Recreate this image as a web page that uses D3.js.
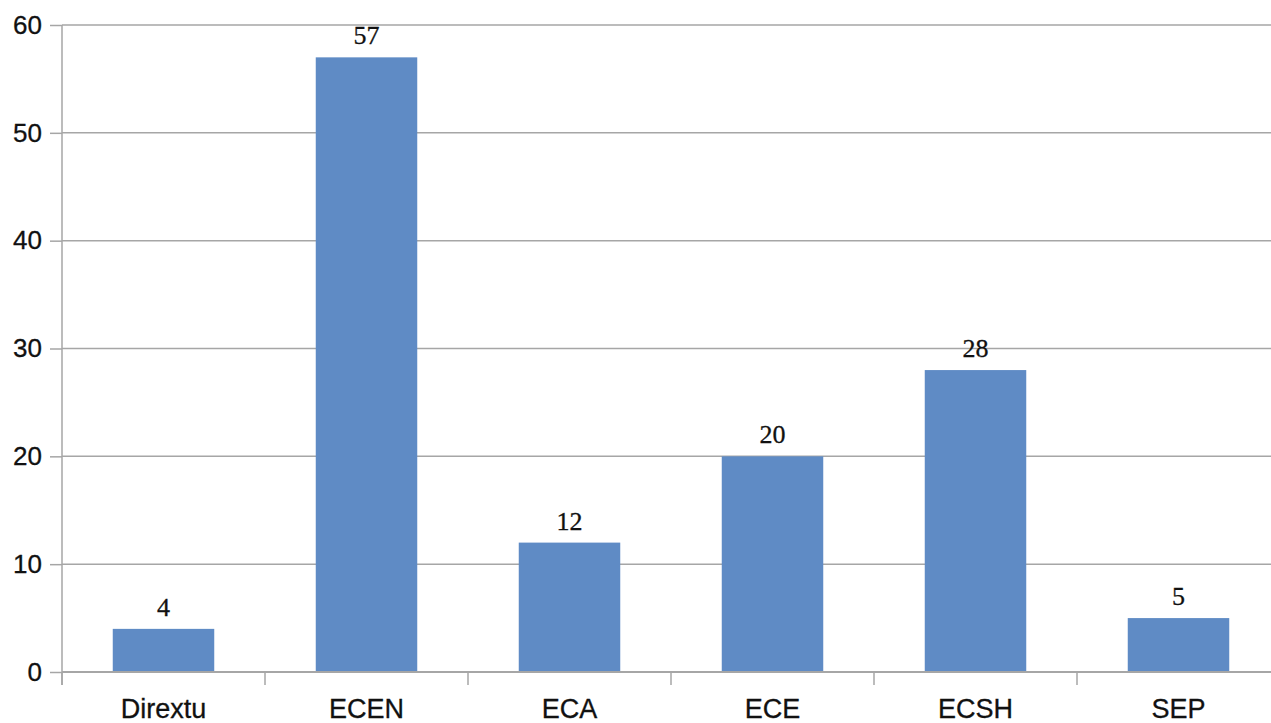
<!DOCTYPE html>
<html><head><meta charset="utf-8">
<script src="https://cdn.jsdelivr.net/npm/d3@7"></script>
<style>body{margin:0;background:#fff;}svg{display:block;}</style>
</head><body>
<svg id="c" width="1271" height="723"></svg>
<script>
const categories = ["Dirextu","ECEN","ECA","ECE","ECSH","SEP"];
const values = [4,57,12,20,28,5];
const yTicks = [0,10,20,30,40,50,60];

const svg = d3.select("#c");
const mLeft = 62, mTop = 25, mBottom = 672, step = 203;
const x = d3.scaleBand().domain(categories).range([mLeft, mLeft + step*categories.length]).paddingInner(0.5).paddingOuter(0.25);
const y = d3.scaleLinear().domain([0,60]).range([mBottom, mTop]);

// gridlines
svg.append("g").selectAll("line").data(yTicks.filter(d=>d>0)).join("line")
  .attr("x1", mLeft).attr("x2", 1271).attr("y1", d=>y(d)).attr("y2", d=>y(d))
  .attr("stroke", "#a6a6a6").attr("stroke-width", 1.5);

// bars
svg.append("g").selectAll("rect").data(values).join("rect")
  .attr("x", (d,i)=>x(categories[i])).attr("width", x.bandwidth())
  .attr("y", d=>y(d)).attr("height", d=>mBottom - y(d))
  .attr("fill", "#5f8bc5");

// data labels
svg.append("g").selectAll("text").data(values).join("text")
  .attr("x", (d,i)=>x(categories[i]) + x.bandwidth()/2)
  .attr("y", d=>y(d) - 13)
  .attr("text-anchor","middle")
  .attr("font-family","Liberation Serif, serif").attr("font-size", 26).attr("fill","#111")
  .attr("stroke","#111").attr("stroke-width",0.3)
  .text(d=>d);

// y axis
const yAxis = svg.append("g").attr("transform", `translate(${mLeft},0)`)
  .call(d3.axisLeft(y).tickValues(yTicks).tickSize(12).tickPadding(8));
yAxis.select(".domain").remove();
yAxis.append("line").attr("x1",0).attr("x2",0).attr("y1",mTop).attr("y2",mBottom+13).attr("stroke","#a6a6a6").attr("stroke-width",1.5);
yAxis.selectAll(".tick line").attr("stroke","#a6a6a6").attr("stroke-width",1.5);
yAxis.selectAll(".tick text").attr("font-family","Liberation Sans, Arial, sans-serif").attr("font-size",26).attr("fill","#111")
  .attr("stroke","#111").attr("stroke-width",0.3);

// x axis
const xg = svg.append("g").attr("transform", `translate(0,${mBottom})`);
xg.append("line").attr("x1", mLeft).attr("x2", 1271).attr("y1",0).attr("y2",0).attr("stroke","#a6a6a6").attr("stroke-width",2);
const bounds = d3.range(categories.length+1).map(i => x.range()[0] + i*x.step());
xg.selectAll("line.tk").data(bounds).join("line").attr("class","tk")
  .attr("x1", d=>d).attr("x2", d=>d).attr("y1",0).attr("y2",13).attr("stroke","#a6a6a6").attr("stroke-width",1.5);
xg.selectAll("text").data(categories).join("text")
  .attr("x", d=>x(d)+x.bandwidth()/2).attr("y", 46)
  .attr("text-anchor","middle")
  .attr("font-family","Liberation Sans, Arial, sans-serif").attr("font-size",27).attr("fill","#111")
  .attr("stroke","#111").attr("stroke-width",0.3)
  .text(d=>d);
</script>
</body></html>
